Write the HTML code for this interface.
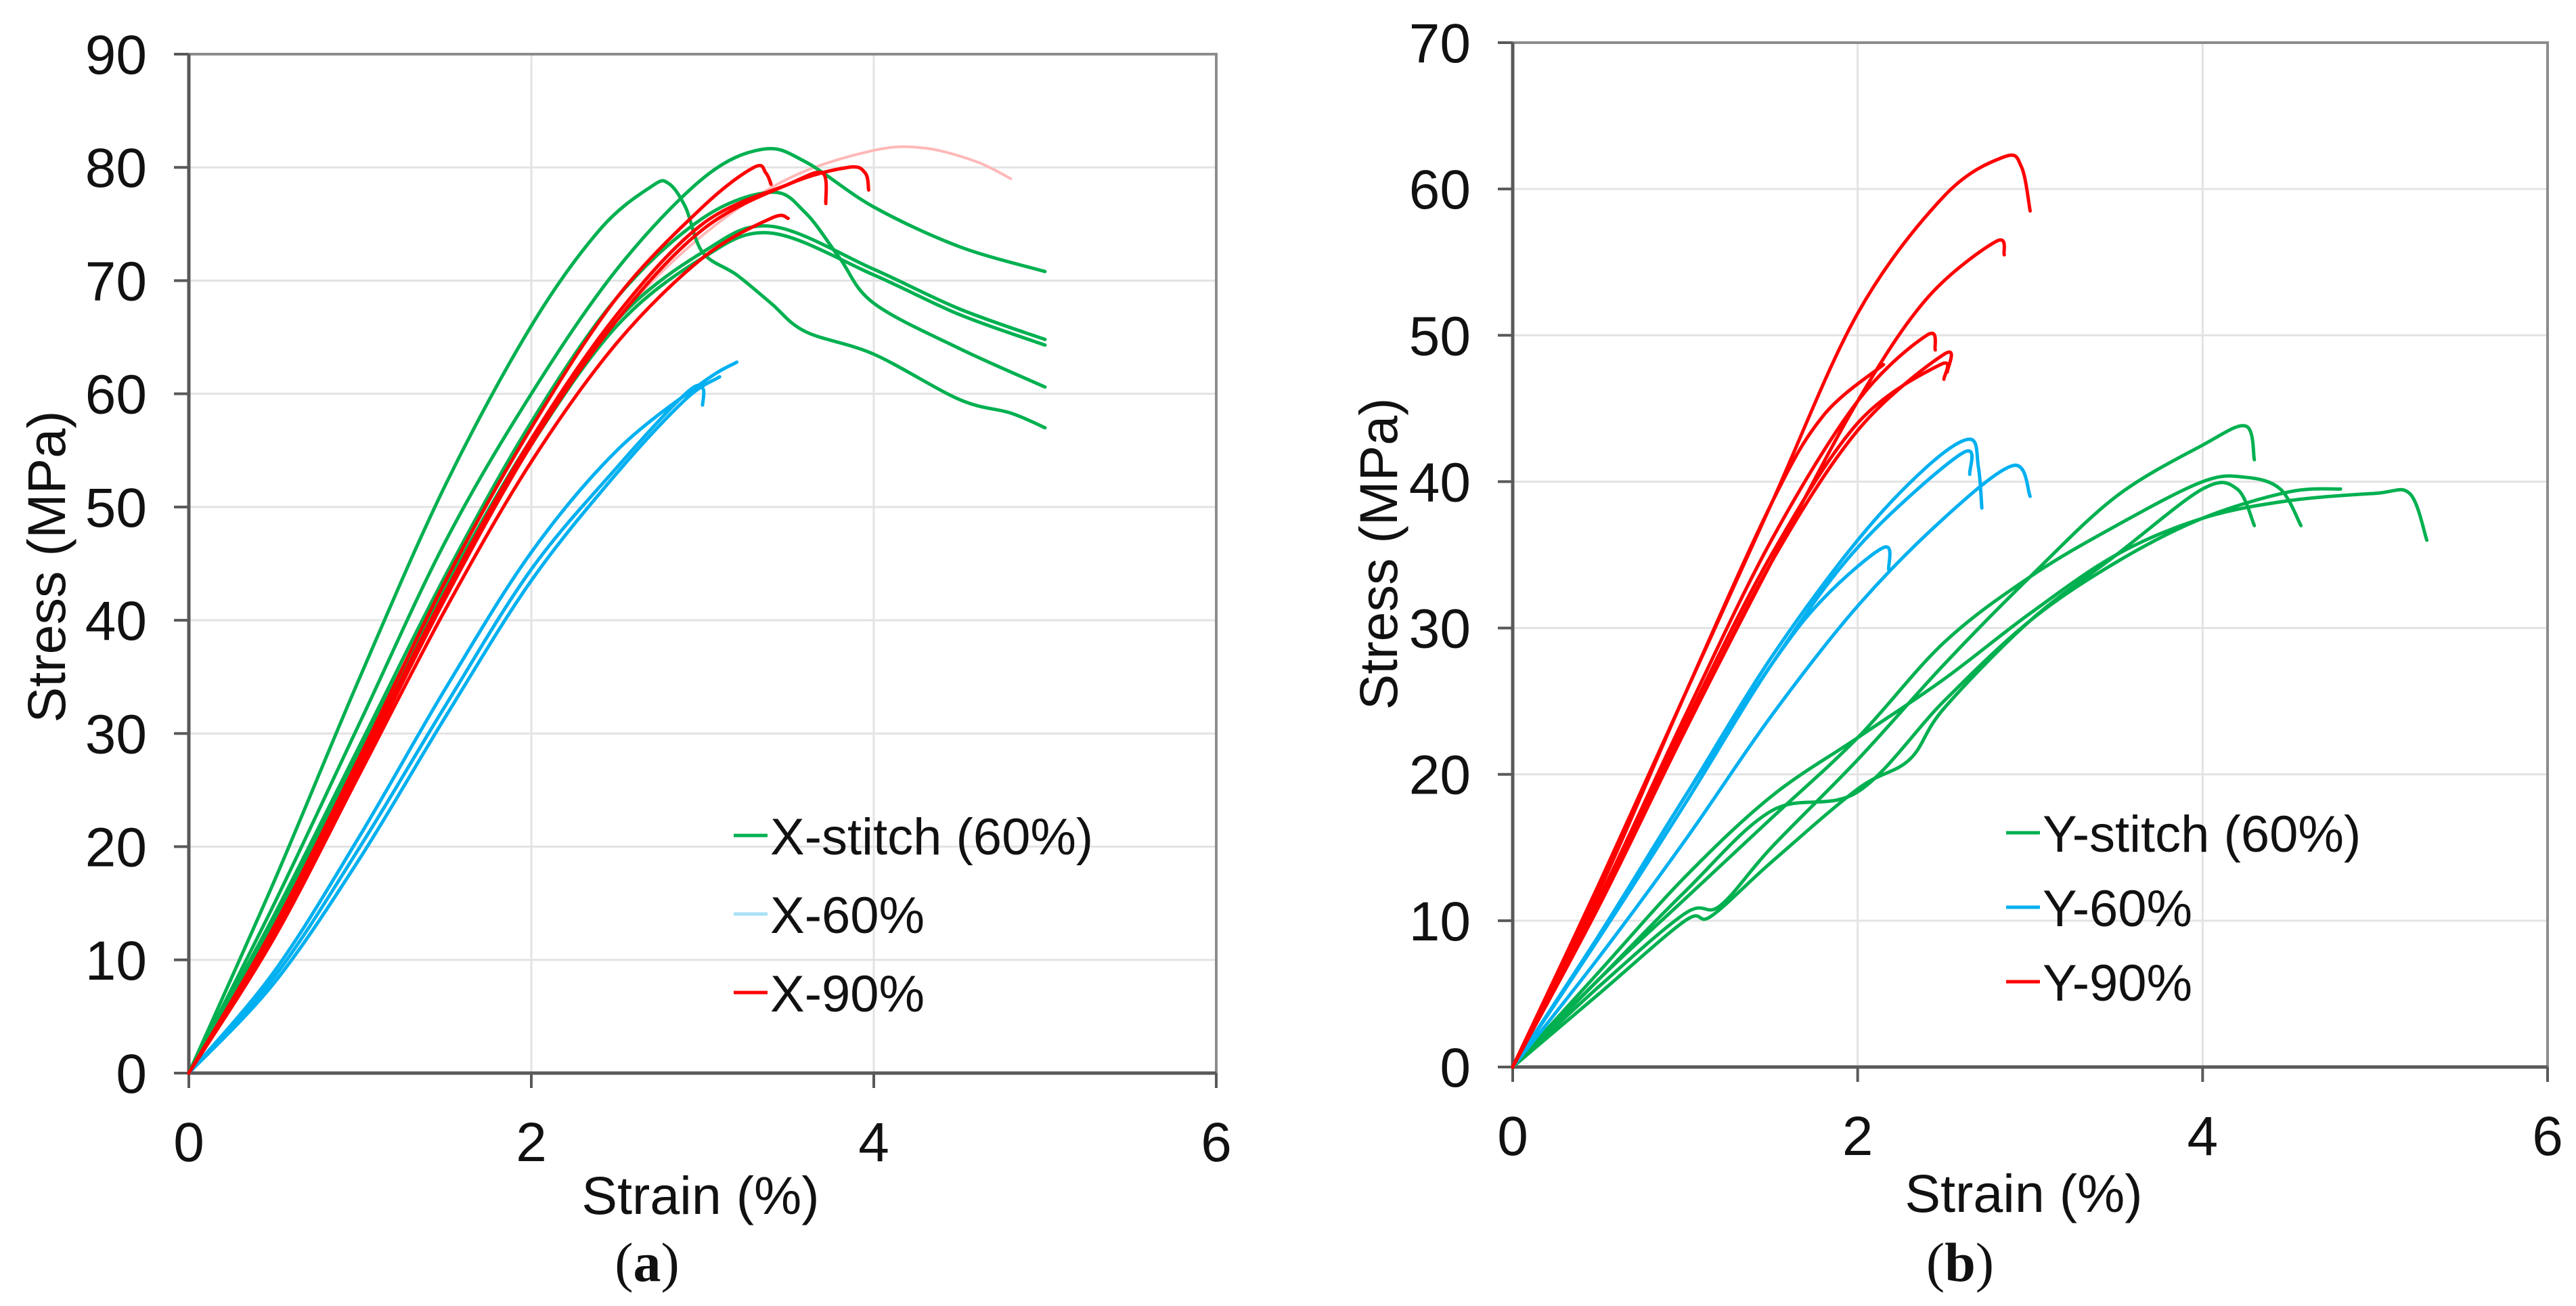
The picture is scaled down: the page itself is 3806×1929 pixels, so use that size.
<!DOCTYPE html>
<html><head><meta charset="utf-8"><style>
html,body{margin:0;padding:0;background:#fff;}
svg{display:block;font-family:"Liberation Sans",Arial,sans-serif;}
.tick{font-size:82px;fill:#111;}
.title{font-size:79px;fill:#111;}
.leg{font-size:76px;fill:#111;}
.cap{font-family:"Liberation Serif",serif;font-size:82px;fill:#111;}
</style></head><body>
<svg id="chart" width="3806" height="1929" viewBox="0 0 3806 1929" xmlns="http://www.w3.org/2000/svg"></svg>
<script>
const xTicksA=[0,2,4,6];
const yTicksA=[0,10,20,30,40,50,60,70,80,90];
const xTicksB=[0,2,4,6];
const yTicksB=[0,10,20,30,40,50,60,70];

const aGreen1=[[0,0],[0.5,17],[1,35],[1.5,52],[2,66],[2.4,74.5],[2.7,78.3],[2.8,78.6],[2.9,76.5],[3.0,72.5],[3.2,70.5],[3.4,68],[3.6,65.5],[4.0,63.5],[4.5,59.5],[4.8,58.3],[5,57]];
const aGreen2=[[0,0],[0.5,15],[1,31],[1.5,47],[2,60],[2.5,71],[3,79],[3.35,81.6],[3.6,80.5],[4,76.5],[4.5,73],[5,70.8]];
const aGreen3=[[0,0],[0.5,14],[1,29],[1.5,44],[2,57.5],[2.5,68.5],[3,75.5],[3.4,77.8],[3.6,76],[3.8,72],[4,68],[4.5,64],[5,60.6]];
const aGreen4=[[0,0],[0.5,13.5],[1,28.5],[1.5,43],[2,56],[2.5,66.5],[3,72.5],[3.4,74.8],[4,71],[4.5,67.5],[5,64.8]];
const aGreen5=[[0,0],[0.5,13.2],[1,28],[1.5,42.5],[2,55.5],[2.5,66],[3,72],[3.4,74.2],[4,70.5],[4.5,67],[5,64.3]];
const aPink=[[0,0],[0.5,13],[1,28],[1.5,42.5],[2,56],[2.5,66.5],[3,74],[3.5,79],[4,81.5],[4.3,81.7],[4.6,80.5],[4.8,79]];
const aRed1=[[0,0],[0.5,13],[1,28],[1.5,43.5],[2,57],[2.5,68.5],[3,76.5],[3.3,80],[3.37,79.5],[3.4,78.5]];
const aRed2=[[0,0],[0.5,12.5],[1,27],[1.5,42],[2,55.5],[2.5,66.5],[3,74.5],[3.5,78.5],[3.85,80],[3.95,79.5],[3.97,78]];
const aRed3=[[0,0],[0.5,12.8],[1,27.5],[1.5,42.5],[2,56],[2.5,67],[3,75],[3.5,78.5],[3.7,79.5],[3.72,76.8]];
const aRed4=[[0,0],[0.5,12],[1,26.5],[1.5,41],[2,54],[2.5,64.5],[3,72],[3.4,75.5],[3.5,75.5]];
const aBlue1=[[0,0],[0.5,9],[1,21],[1.5,34],[2,46],[2.5,55],[3,61],[3.2,62.8]];
const aBlue2=[[0,0],[0.5,8.5],[1,20],[1.5,32.5],[2,44.5],[2.5,53.5],[2.9,60],[3,60.5],[3.0,59]];
const aBlue3=[[0,0],[0.5,8],[1,19],[1.5,31.5],[2,43.5],[2.5,53],[2.9,59.5],[3.1,61.5]];

const bRed1=[[0,0],[0.5,12.5],[1,25.5],[1.5,38.5],[2,51.5],[2.5,59.5],[2.85,62.2],[2.95,61.5],[3.0,58.5]];
const bRed2=[[0,0],[0.5,11],[1,23],[1.5,34.5],[2,45.5],[2.4,52.5],[2.8,56.4],[2.85,55.5]];
const bRed3=[[0,0],[0.5,11.5],[1,24],[1.5,36],[2,45.5],[2.4,50],[2.45,49]];
const bRed4=[[0,0],[0.5,12],[1,25.5],[1.5,38.5],[1.8,44.5],[2.15,48]];
const bRed5=[[0,0],[0.5,11],[1,23],[1.5,34.5],[2,43.5],[2.5,48.7],[2.52,47.5]];
const bRed6=[[0,0],[0.5,11.2],[1,23.5],[1.5,35],[2,44],[2.48,48],[2.5,47]];
const bBlue1=[[0,0],[0.5,9],[1,18.5],[1.5,28],[2,36],[2.4,41],[2.65,42.9],[2.7,41],[2.72,38.2]];
const bBlue2=[[0,0],[0.5,8.8],[1,18],[1.5,27.5],[2,35.5],[2.6,41.9],[2.65,40.5]];
const bBlue3=[[0,0],[0.5,7.5],[1,15.5],[1.5,24],[2,31.5],[2.5,37.5],[2.9,41.1],[3.0,39]];
const bBlue4=[[0,0],[0.5,9],[1,18.5],[1.5,27.5],[1.8,32],[2.15,35.5],[2.18,34]];
const bGreen1=[[0,0],[0.5,5.5],[1,10.5],[1.2,11],[1.5,15],[2,21],[2.5,27.5],[3,33.5],[3.5,39],[4,42.5],[4.25,43.8],[4.3,41.5]];
const bGreen2=[[0,0],[0.5,6.5],[1,13],[1.5,18.5],[2,22.5],[2.5,26.5],[3,31],[3.5,35],[4,37.5],[4.5,38.7],[5,39.2],[5.2,39.2],[5.3,36]];
const bGreen3=[[0,0],[0.5,6],[1,11.5],[1.5,17],[2,22.5],[2.5,29],[3,33.5],[3.5,37],[4,40],[4.25,40.3],[4.45,39.5],[4.57,37]];
const bGreen4=[[0,0],[0.5,5],[1,10],[1.15,10.3],[1.5,14],[2,19],[2.3,21],[2.5,24.5],[3,30.5],[3.5,35],[4,39.5],[4.2,39.5],[4.3,37]];
const bGreen5=[[0,0],[0.5,6],[1,12],[1.5,17.5],[2,18.8],[2.5,25],[3,30.5],[3.5,34.5],[4,37.5],[4.5,39.3],[4.8,39.5]];

const GREEN="#00B050",BLUE="#00B0F0",RED="#FF0000",PINK="#FFB8B8",LBLUE="#A8E2F8";
const NS="http://www.w3.org/2000/svg";
const svg=document.getElementById('chart');
function mk(tag,attrs,parent){const e=document.createElementNS(NS,tag);for(const k in attrs)e.setAttribute(k,attrs[k]);(parent||svg).appendChild(e);return e;}
function smooth(pts){let d="M"+pts[0][0]+","+pts[0][1];for(let i=0;i<pts.length-1;i++){const p0=pts[Math.max(0,i-1)],p1=pts[i],p2=pts[i+1],p3=pts[Math.min(pts.length-1,i+2)];const t=1/6;d+=" C"+(p1[0]+(p2[0]-p0[0])*t)+","+(p1[1]+(p2[1]-p0[1])*t)+" "+(p2[0]-(p3[0]-p1[0])*t)+","+(p2[1]-(p3[1]-p1[1])*t)+" "+p2[0]+","+p2[1];}return d;}

function panel(cfg){
  const g=mk('g',{});
  
  
  const X=v=>cfg.x0+(v-cfg.xmin)/(cfg.xmax-cfg.xmin)*(cfg.x1-cfg.x0);
  const Y=v=>cfg.y0-(v-cfg.ymin)/(cfg.ymax-cfg.ymin)*(cfg.y0-cfg.y1);
  cfg.yTicks.forEach(t=>{
    const l=mk('line',{x1:cfg.x0,x2:cfg.x1,y1:Y(t),y2:Y(t),stroke:"#e3e3e3","stroke-width":3},g);
    
    const tk=mk('line',{x1:cfg.x0-22,x2:cfg.x0,y1:Y(t),y2:Y(t),stroke:"#595959","stroke-width":4},g);
    
    const tx=mk('text',{x:cfg.x0-62,y:Y(t)+29,"text-anchor":"end",class:"tick"},g);tx.textContent=t;
    
  });
  cfg.xTicks.forEach(t=>{
    const l=mk('line',{x1:X(t),x2:X(t),y1:cfg.y1,y2:cfg.y0,stroke:"#e3e3e3","stroke-width":3},g);
    
    const tk=mk('line',{x1:X(t),x2:X(t),y1:cfg.y0,y2:cfg.y0+22,stroke:"#595959","stroke-width":4},g);
    
    const tx=mk('text',{x:X(t),y:cfg.xLabY,"text-anchor":"middle",class:"tick"},g);tx.textContent=t;
    
  });
  const fr=mk('path',{d:`M${cfg.x0},${cfg.y1} H${cfg.x1} V${cfg.y0}`,fill:"none",stroke:"#8c8c8c","stroke-width":4},g);
  
  const ax=mk('path',{d:`M${cfg.x0},${cfg.y1} V${cfg.y0} H${cfg.x1}`,fill:"none",stroke:"#595959","stroke-width":5},g);
  
  cfg.series.forEach(s=>{
    const pts=s.data.map(p=>[X(p[0]),Y(p[1])]);
    const p=mk('path',{d:smooth(pts),fill:"none",stroke:s.color,"stroke-width":s.w||5,"stroke-linejoin":"round","stroke-linecap":"round"},g);
    
  });
  cfg.legend.forEach((L,i)=>{
    const y=cfg.legY+i*cfg.legDy;
    const ln=mk('line',{x1:cfg.legX,x2:cfg.legX+50,y1:y,y2:y,stroke:L.color,"stroke-width":5},g);
    
    const t=mk('text',{x:cfg.legX+54,y:y+28,class:"leg"},g);t.textContent=L.label;
    
  });
  const xt=mk('text',{x:cfg.xTitleX,y:cfg.xTitleY,"text-anchor":"middle",class:"title"},g);xt.textContent="Strain (%)";
  
  const yt=mk('text',{x:0,y:0,"text-anchor":"middle",class:"title",transform:`translate(${cfg.yTitleX},${cfg.yTitleY}) rotate(-90)`},g);yt.textContent="Stress (MPa)";
  
  const cp=mk('text',{x:cfg.capX,y:cfg.capY,"text-anchor":"middle",class:"cap"},g);
  const b1=mk('tspan',{},cp);b1.textContent="(";
  const b2=mk('tspan',{"font-weight":"bold"},cp);b2.textContent=cfg.cap;
  const b3=mk('tspan',{},cp);b3.textContent=")";
  
}

panel({name:'panel-a',x0:279,x1:1797,y0:1585,y1:80,xmin:0,xmax:6,ymin:0,ymax:90,xTicks:xTicksA,yTicks:yTicksA,xLabY:1715,
  xTitleX:1035,xTitleY:1793,yTitleX:96,yTitleY:837,capX:956,capY:1892,cap:"a",
  legX:1084,legY:1234,legDy:116,
  legend:[{label:"X-stitch (60%)",color:GREEN},{label:"X-60%",color:LBLUE},{label:"X-90%",color:RED}],
  series:[{name:'x90-light-curve',data:aPink,color:PINK,w:4},
    {name:'x60-curve-1',data:aBlue1,color:BLUE},{name:'x60-curve-2',data:aBlue2,color:BLUE},{name:'x60-curve-3',data:aBlue3,color:BLUE},
    {name:'xstitch-curve-1',data:aGreen1,color:GREEN},{name:'xstitch-curve-2',data:aGreen2,color:GREEN},{name:'xstitch-curve-3',data:aGreen3,color:GREEN},{name:'xstitch-curve-4',data:aGreen4,color:GREEN},{name:'xstitch-curve-5',data:aGreen5,color:GREEN},
    {name:'x90-curve-1',data:aRed1,color:RED},{name:'x90-curve-2',data:aRed2,color:RED},{name:'x90-curve-3',data:aRed3,color:RED},{name:'x90-curve-4',data:aRed4,color:RED}]});

panel({name:'panel-b',x0:2235,x1:3764,y0:1576,y1:63,xmin:0,xmax:6,ymin:0,ymax:70,xTicks:xTicksB,yTicks:yTicksB,xLabY:1706,
  xTitleX:2990,xTitleY:1790,yTitleX:2064,yTitleY:818,capX:2896,capY:1892,cap:"b",
  legX:2964,legY:1230,legDy:110,
  legend:[{label:"Y-stitch (60%)",color:GREEN},{label:"Y-60%",color:BLUE},{label:"Y-90%",color:RED}],
  series:[{name:'ystitch-curve-1',data:bGreen1,color:GREEN},{name:'ystitch-curve-2',data:bGreen2,color:GREEN},{name:'ystitch-curve-3',data:bGreen3,color:GREEN},{name:'ystitch-curve-4',data:bGreen4,color:GREEN},{name:'ystitch-curve-5',data:bGreen5,color:GREEN},
    {name:'y60-curve-1',data:bBlue1,color:BLUE},{name:'y60-curve-2',data:bBlue2,color:BLUE},{name:'y60-curve-3',data:bBlue3,color:BLUE},{name:'y60-curve-4',data:bBlue4,color:BLUE},
    {name:'y90-curve-1',data:bRed1,color:RED},{name:'y90-curve-2',data:bRed2,color:RED},{name:'y90-curve-3',data:bRed3,color:RED},{name:'y90-curve-4',data:bRed4,color:RED},{name:'y90-curve-5',data:bRed5,color:RED},{name:'y90-curve-6',data:bRed6,color:RED}]});
</script>
</body></html>
